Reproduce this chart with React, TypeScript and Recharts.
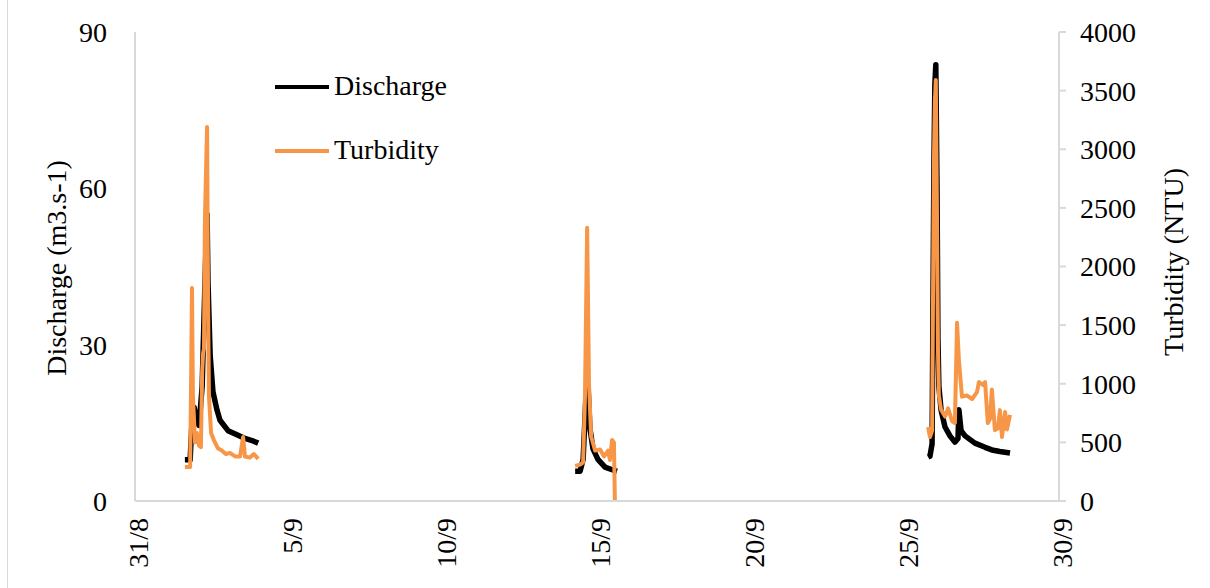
import * as React from "react";
import { LineChart, Line, XAxis, YAxis } from "recharts";

// x values are days since 31/8
const tickDays = [0, 5, 10, 15, 20, 25, 30];
const tickLabels = ["31/8", "5/9", "10/9", "15/9", "20/9", "25/9", "30/9"];
const dischargeTicks = [0, 30, 60, 90];
const turbidityTicks = [0, 500, 1000, 1500, 2000, 2500, 3000, 3500, 4000];

// event 1 (1-4 Sep)
const dischargeDays1 = [1.62, 1.79, 1.85, 1.92, 2.01, 2.08, 2.18, 2.24, 2.31, 2.34, 2.37, 2.44, 2.53, 2.66, 2.76, 3.02, 3.31, 3.57, 3.8, 4.0];
const dischargeValues1 = [7.9, 7.9, 15, 18, 15, 14.5, 22, 35, 50, 55, 42, 28, 21, 17.5, 15.5, 13.5, 12.7, 12, 11.6, 11.1];
const turbidityDays1 = [1.62, 1.79, 1.82, 1.85, 1.88, 1.95, 2.01, 2.08, 2.14, 2.18, 2.21, 2.24, 2.27, 2.34, 2.37, 2.4, 2.47, 2.56, 2.69, 2.82, 2.95, 3.08, 3.25, 3.41, 3.51, 3.57, 3.73, 3.86, 4.0];
const turbidityValues1 = [290, 290, 1000, 1817, 900, 500, 580, 470, 460, 1100, 1260, 1300, 2400, 3190, 1800, 900, 580, 520, 450, 430, 400, 410, 380, 380, 545, 380, 370, 400, 360];

// event 2 (14-15 Sep)
const dischargeDays2 = [14.29, 14.45, 14.55, 14.64, 14.71, 14.77, 14.87, 15.03, 15.26, 15.49, 15.65];
const dischargeValues2 = [5.7, 5.7, 8, 20, 22, 14, 10, 8, 6.5, 6, 5.7];
const turbidityDays2 = [14.29, 14.45, 14.55, 14.61, 14.68, 14.74, 14.81, 14.94, 15.1, 15.23, 15.36, 15.42, 15.49, 15.55, 15.58];
const turbidityValues2 = [300, 310, 330, 900, 2330, 1000, 550, 430, 440, 380, 430, 350, 520, 500, 0];

// event 3 (25-28 Sep)
const dischargeDays3 = [25.75, 25.81, 25.88, 25.91, 25.94, 25.97, 26.0, 26.04, 26.07, 26.1, 26.17, 26.3, 26.46, 26.62, 26.72, 26.75, 26.82, 26.95, 27.27, 27.6, 27.82, 28.08, 28.41];
const dischargeValues3 = [8.4, 8.6, 11, 40, 65, 80, 83.7, 60, 31, 22, 17.5, 14.2, 12.5, 11.3, 12, 17.5, 13.5, 12.5, 11.1, 10.3, 9.8, 9.5, 9.2];
const turbidityDays3 = [25.75, 25.81, 25.88, 25.94, 25.97, 26.0, 26.04, 26.07, 26.1, 26.17, 26.3, 26.4, 26.53, 26.62, 26.69, 26.75, 26.85, 27.01, 27.18, 27.34, 27.4, 27.53, 27.6, 27.69, 27.76, 27.82, 27.92, 28.02, 28.08, 28.15, 28.25, 28.31, 28.41];
const turbidityValues3 = [630, 546, 600, 2900, 3400, 3590, 2400, 1300, 900, 780, 720, 790, 680, 665, 1520, 1200, 890, 900, 870, 930, 1015, 990, 1015, 665, 700, 950, 605, 620, 775, 546, 760, 610, 735];

const FONT = "Liberation Serif";
const BLACK = "#000000";
const ORANGE = "#F79646";
const AXIS_GRAY = "#d9d9d9";

type Pt = { day: number; v: number | null };

// one array per series, with a null row between events so the line breaks
function buildSeries(events: [number[], number[]][]): Pt[] {
  const out: Pt[] = [];
  events.forEach(([days, vals], i) => {
    if (i > 0) out.push({ day: (days[0] + out[out.length - 1].day) / 2, v: null });
    days.forEach((d, j) => out.push({ day: d, v: vals[j] }));
  });
  return out;
}

const dischargeData = buildSeries([
  [dischargeDays1, dischargeValues1],
  [dischargeDays2, dischargeValues2],
  [dischargeDays3, dischargeValues3],
]);
const turbidityData = buildSeries([
  [turbidityDays1, turbidityValues1],
  [turbidityDays2, turbidityValues2],
  [turbidityDays3, turbidityValues3],
]);

const DateTick = (props: any) => {
  const { x, y, payload } = props;
  const idx = tickDays.indexOf(payload.value);
  return (
    <g transform={`translate(${x + 4},${y + 9})`}>
      <text transform="rotate(-90)" textAnchor="end" dy="0.33em" fontSize={28} fontFamily={FONT} fill="#000">
        {tickLabels[idx]}
      </text>
    </g>
  );
};

const legendItems = [
  { name: "Discharge", color: BLACK },
  { name: "Turbidity", color: ORANGE },
];

export default function App() {
  return (
    <div style={{ position: "absolute", left: 0, top: 0, width: 1210, height: 588, background: "#fff", fontFamily: FONT }}>
      <div style={{ position: "absolute", left: 7, top: 0, width: 1, height: 588, background: AXIS_GRAY }} />
      <LineChart width={1210} height={588} margin={{ top: 32, right: 0, bottom: 0, left: 0 }}>
        <XAxis
          xAxisId="d"
          dataKey="day"
          type="number"
          domain={[0, 30]}
          ticks={tickDays}
          interval={0}
          height={87}
          tick={<DateTick />}
          tickLine={false}
          axisLine={{ stroke: AXIS_GRAY, strokeWidth: 2 }}
        />
        <YAxis
          yAxisId="q"
          orientation="left"
          width={135}
          domain={[0, 90]}
          ticks={dischargeTicks}
          interval={0}
          tickLine={false}
          tickSize={0}
          tickMargin={28}
          axisLine={{ stroke: AXIS_GRAY, strokeWidth: 2 }}
          tick={{ fontSize: 28, fontFamily: FONT, fill: "#000" }}
          label={{
            content: () => (
              <text transform="translate(66,268) rotate(-90)" textAnchor="middle" fontSize={28} fontFamily={FONT} fill="#000">
                Discharge (m3.s-1)
              </text>
            ),
          }}
        />
        <YAxis
          yAxisId="t"
          orientation="right"
          width={151}
          domain={[0, 4000]}
          ticks={turbidityTicks}
          interval={0}
          tickLine={{ stroke: AXIS_GRAY, strokeWidth: 2 }}
          tickSize={7}
          tickMargin={14}
          axisLine={{ stroke: AXIS_GRAY, strokeWidth: 2 }}
          tick={{ fontSize: 28, fontFamily: FONT, fill: "#000" }}
          label={{
            content: () => (
              <text transform="translate(1183,262) rotate(-90)" textAnchor="middle" fontSize={28} fontFamily={FONT} fill="#000">
                Turbidity (NTU)
              </text>
            ),
          }}
        />
        <Line
          xAxisId="d"
          yAxisId="q"
          data={dischargeData}
          dataKey="v"
          name="Discharge"
          type="linear"
          stroke={BLACK}
          strokeWidth={5.5}
          strokeLinejoin="round"
          dot={false}
          activeDot={false}
          connectNulls={false}
          isAnimationActive={false}
        />
        <Line
          xAxisId="d"
          yAxisId="t"
          data={turbidityData}
          dataKey="v"
          name="Turbidity"
          type="linear"
          stroke={ORANGE}
          strokeWidth={4}
          strokeLinejoin="round"
          dot={false}
          activeDot={false}
          connectNulls={false}
          isAnimationActive={false}
        />
      </LineChart>
      {/* legend sits inside the plot, top left */}
      <div style={{ position: "absolute", left: 275, top: 70, fontSize: 28, color: "#000", lineHeight: "32px" }}>
        {legendItems.map((it, i) => (
          <div key={it.name} style={{ display: "flex", alignItems: "center", height: 32, marginBottom: i === 0 ? 32 : 0 }}>
            <div style={{ width: 54, height: 4, background: it.color, marginRight: 5, marginTop: 2 }} />
            <span>{it.name}</span>
          </div>
        ))}
      </div>
    </div>
  );
}
